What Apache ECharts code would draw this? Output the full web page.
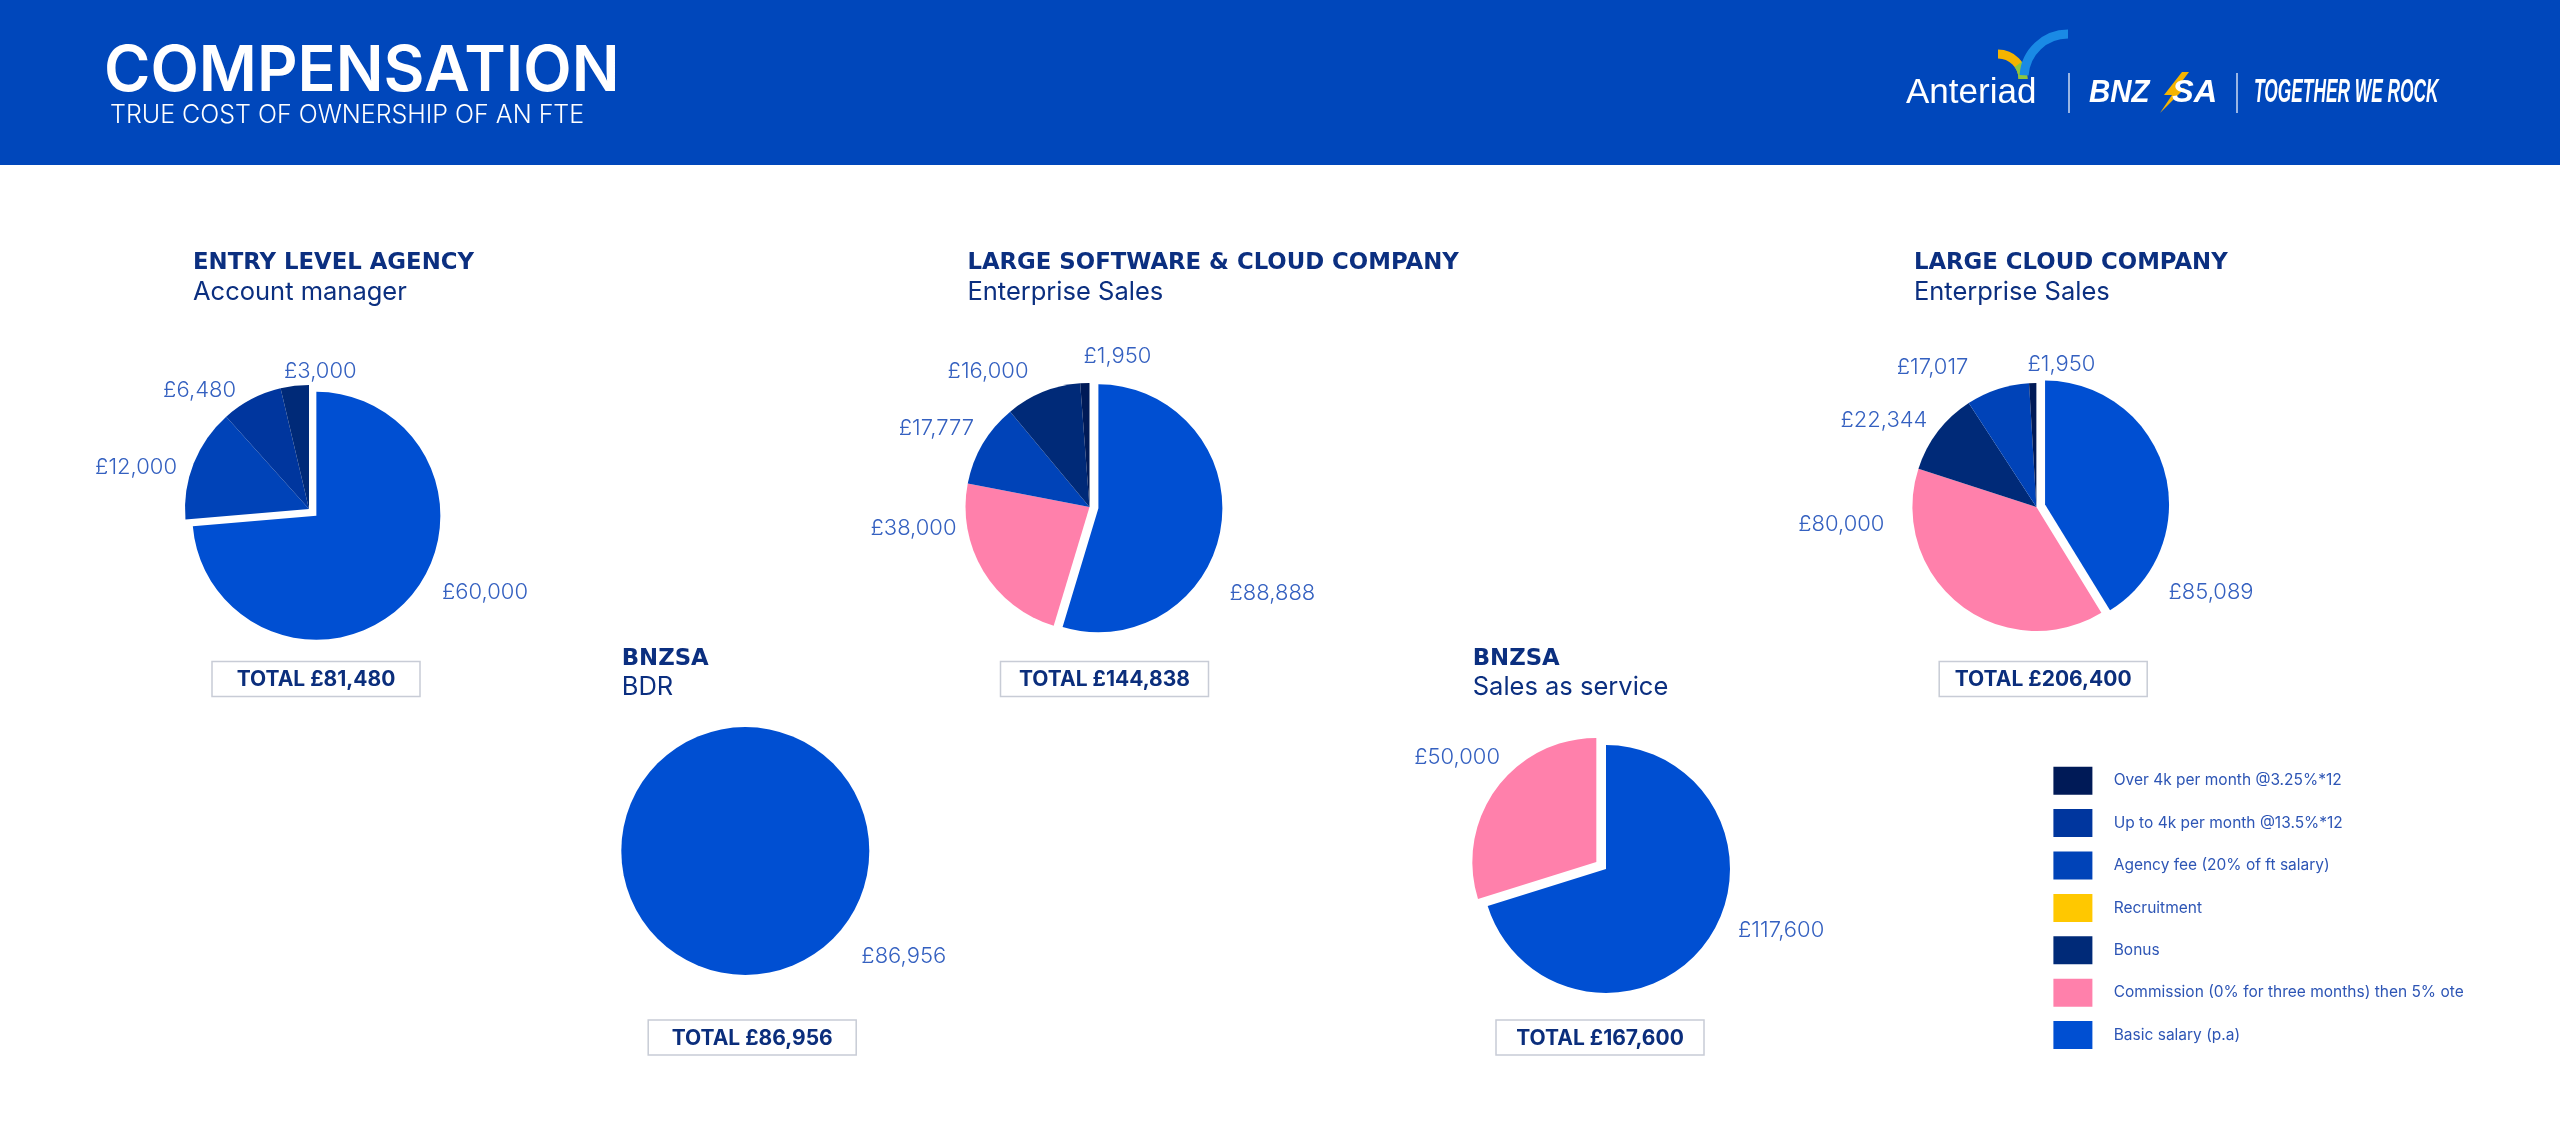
<!DOCTYPE html>
<html>
<head>
<meta charset="utf-8">
<style>
html,body{margin:0;padding:0;background:#fff;}
#c{width:2560px;height:1127px;}
</style>
<script src="https://cdn.jsdelivr.net/npm/echarts@6/dist/echarts.min.js"></script>
</head>
<body>
<div id="c"></div>
<script>
// ---------- DATA ----------
const CATEGORIES = [
  'Over 4k per month @3.25%*12',
  'Up to 4k per month @13.5%*12',
  'Agency fee (20% of ft salary)',
  'Recruitment',
  'Bonus',
  'Commission (0% for three months) then 5% ote',
  'Basic salary (p.a)'
];
const CAT_COLORS = ['#001a57', '#00369e', '#0043b8', '#ffc800', '#002a78', '#ff80ab', '#004fd2'];

const PIE_TITLES = ['ENTRY LEVEL AGENCY', 'LARGE SOFTWARE & CLOUD COMPANY', 'LARGE CLOUD COMPANY', 'BNZSA', 'BNZSA'];
const PIE_SUBTITLES = ['Account manager', 'Enterprise Sales', 'Enterprise Sales', 'BDR', 'Sales as service'];

const pie1Names = ['Basic salary (p.a)', 'Agency fee (20% of ft salary)', 'Up to 4k per month @13.5%*12', 'Bonus'];
const pie1Values = [60000, 12000, 6480, 3000];

const pie2Names = ['Basic salary (p.a)', 'Commission (0% for three months) then 5% ote', 'Agency fee (20% of ft salary)', 'Bonus', 'Over 4k per month @3.25%*12'];
const pie2Values = [88888, 38000, 17777, 16000, 1950];

const pie3Names = ['Basic salary (p.a)', 'Commission (0% for three months) then 5% ote', 'Bonus', 'Agency fee (20% of ft salary)', 'Over 4k per month @3.25%*12'];
const pie3Values = [85089, 80000, 22344, 17017, 1950];

const pie4Names = ['Basic salary (p.a)'];
const pie4Values = [86956];

const pie5Names = ['Basic salary (p.a)', 'Commission (0% for three months) then 5% ote'];
const pie5Values = [117600, 50000];

const TOTALS = [81480, 144838, 206400, 86956, 167600];
const EXPLODED = ['Basic salary (p.a)', 'Basic salary (p.a)', 'Basic salary (p.a)', null, 'Commission (0% for three months) then 5% ote'];

// ---------- LAYOUT / STYLE ----------
const F = "Inter, 'Open Sans', sans-serif";
const FT = "'DejaVu Sans', Inter, sans-serif";
const NAVY = '#0b2f80';
const LABEL_COLOR = '#3460c0';
const HEADER_BLUE = '#0047bb';
const TRANSPARENT = 'rgba(0,0,0,0)';

const PIE_CENTERS = [[309, 509], [1089.5, 507], [2036.4, 507], [745.3, 851], [1606, 869]];
const PIE_RADIUS = 124;
const PIE_OFFSETS = [10, 9, 9, 0, 12];
const TITLE_POS = [[193, 263], [967.4, 263], [1913.9, 263], [621.7, 658.7], [1472.7, 658.7]];
const TOTAL_POS = [[316, 679], [1104.5, 679], [2043.2, 679], [752.2, 1037.5], [1600, 1037.5]];
// label anchors relative to pie centre: [dx, dy, align]
const LABEL_ANCHORS = [
  [[133, 83, 'left'], [-132, -42, 'right'], [-73, -119, 'right'], [-25, -138, 'left']],
  [[140, 86, 'left'], [-133, 21, 'right'], [-115.5, -79, 'right'], [-61, -136, 'right'], [-6, -151, 'left']],
  [[132, 85, 'left'], [-152, 17, 'right'], [-109, -87, 'right'], [-68, -140, 'right'], [-9, -143, 'left']],
  [[116, 105, 'left']],
  [[132, 61, 'left'], [-106, -112, 'right']]
];

const fmt = v => v.toLocaleString('en-GB');
const colorOf = n => CAT_COLORS[CATEGORIES.indexOf(n)];

const PIES = [
  [pie1Names, pie1Values], [pie2Names, pie2Values], [pie3Names, pie3Values],
  [pie4Names, pie4Values], [pie5Names, pie5Values]
];

// offset vector of the exploded slice, along its bisector (pie starts at 12 o'clock, clockwise)
function explodeVector(names, values, name, off) {
  const k = names.indexOf(name);
  if (k < 0) return [0, 0];
  const total = values.reduce((a, b) => a + b, 0);
  let before = 0;
  for (let i = 0; i < k; i++) before += values[i];
  const mid = (before + values[k] / 2) / total * 2 * Math.PI;
  return [off * Math.sin(mid), -off * Math.cos(mid)];
}

const basePie = {
  type: 'pie', radius: PIE_RADIUS, startAngle: 90, clockwise: true,
  avoidLabelOverlap: false, animation: false,
  emphasis: { disabled: true },
  itemStyle: { borderWidth: 0 },
  labelLine: { show: false }
};

const series = [];
PIES.forEach(([names, values], si) => {
  const exp = EXPLODED[si];
  const c = PIE_CENTERS[si];
  // main pie (exploded slice left empty, all labels)
  series.push(Object.assign({}, basePie, {
    center: c,
    label: {
      show: true, position: 'outside',
      formatter: p => '£' + fmt(p.value),
      color: LABEL_COLOR, fontFamily: F, fontWeight: 300, fontSize: 22
    },
    labelLayout: function (params) {
      const a = LABEL_ANCHORS[si][params.dataIndex];
      return { x: c[0] + a[0], y: c[1] + a[1], align: a[2], verticalAlign: 'middle' };
    },
    data: names.map((n, i) => ({
      name: n, value: values[i],
      itemStyle: { color: n === exp ? TRANSPARENT : colorOf(n) }
    }))
  }));
  if (exp) {
    const v = explodeVector(names, values, exp, PIE_OFFSETS[si]);
    series.push(Object.assign({}, basePie, {
      center: [c[0] + v[0], c[1] + v[1]],
      silent: true,
      label: { show: false },
      data: names.map((n, i) => ({
        name: n, value: values[i],
        itemStyle: { color: n === exp ? colorOf(n) : TRANSPARENT }
      }))
    }));
  }
});

// ---------- GRAPHIC (header, titles, totals, legend) ----------
const g = [];
g.push({ type: 'rect', shape: { x: 0, y: 0, width: 2560, height: 165 }, style: { fill: HEADER_BLUE }, silent: true });
g.push({ type: 'text', x: 104, y: 72, style: { text: 'COMPENSATION', fill: '#fff', font: `600 63px ${F}`, verticalAlign: 'middle' } });
g.push({ type: 'text', x: 110, y: 115, style: { text: 'TRUE COST OF OWNERSHIP OF AN FTE', fill: '#fff', font: `300 25px ${F}`, verticalAlign: 'middle' } });

// logos
g.push({ type: 'arc', shape: { cx: 1998, cy: 79, r: 25, startAngle: -Math.PI / 2, endAngle: 0, clockwise: true }, style: { stroke: '#f5b400', lineWidth: 9, fill: null } });
g.push({ type: 'arc', shape: { cx: 1998, cy: 79, r: 25, startAngle: -Math.PI / 5, endAngle: 0, clockwise: true }, style: { stroke: '#8dc63f', lineWidth: 9, fill: null } });
g.push({ type: 'arc', shape: { cx: 2068, cy: 78, r: 44, startAngle: Math.PI * 1.02, endAngle: Math.PI * 1.5, clockwise: true }, style: { stroke: '#1a8ae5', lineWidth: 9, fill: null } });
g.push({ type: 'text', x: 1906, y: 93, style: { text: 'Anteriad', fill: '#fff', font: `400 35px 'Liberation Sans', sans-serif`, verticalAlign: 'middle' } });
g.push({ type: 'line', shape: { x1: 2069, y1: 73, x2: 2069, y2: 113 }, style: { stroke: 'rgba(255,255,255,0.8)', lineWidth: 1.5 } });
g.push({ type: 'text', x: 2089, y: 93, scaleX: 0.95, style: { text: 'BNZ', fill: '#fff', font: `italic 700 31px 'Liberation Sans', sans-serif`, verticalAlign: 'middle' } });
g.push({ type: 'polygon', shape: { points: [[2182, 72], [2164, 95], [2172, 95], [2160, 113], [2185, 88], [2177, 88], [2189, 72]] }, style: { fill: '#f5b400' } });
g.push({ type: 'text', x: 2172, y: 93, scaleX: 1.05, style: { text: 'SA', fill: '#fff', font: `italic 700 31px 'Liberation Sans', sans-serif`, verticalAlign: 'middle' } });
g.push({ type: 'line', shape: { x1: 2237, y1: 73, x2: 2237, y2: 113 }, style: { stroke: 'rgba(255,255,255,0.8)', lineWidth: 1.5 } });
g.push({ type: 'text', x: 2254, y: 93, scaleX: 0.51, style: { text: 'TOGETHER WE ROCK', fill: '#fff', font: `italic 700 34px 'Liberation Sans', sans-serif`, verticalAlign: 'middle' } });

// pie titles
PIE_TITLES.forEach((t, i) => {
  const [x, y] = TITLE_POS[i];
  g.push({ type: 'text', x: x, y: y, style: { text: t, fill: NAVY, font: `700 22.8px ${FT}`, verticalAlign: 'middle' } });
  g.push({ type: 'text', x: x, y: y + 29, style: { text: PIE_SUBTITLES[i], fill: NAVY, font: `400 25.5px ${F}`, verticalAlign: 'middle' } });
});

// totals
TOTALS.forEach((v, i) => {
  const [x, y] = TOTAL_POS[i];
  g.push({ type: 'rect', shape: { x: x - 104, y: y - 17.5, width: 208, height: 35 }, style: { fill: '#fff', stroke: '#c8ccd6', lineWidth: 1.5 } });
  g.push({ type: 'text', x: x, y: y + 1, style: { text: 'TOTAL £' + fmt(v), fill: '#0b2e7c', font: `700 21px ${F}`, align: 'center', verticalAlign: 'middle' } });
});

// legend
CATEGORIES.forEach((n, i) => {
  const y = 780.7 + i * 42.4;
  g.push({ type: 'rect', shape: { x: 2053.4, y: y - 14, width: 39, height: 28 }, style: { fill: CAT_COLORS[i] } });
  g.push({ type: 'text', x: 2113.7, y: y, style: { text: n, fill: '#2d55b5', font: `400 15.5px ${F}`, verticalAlign: 'middle' } });
});

const chart = echarts.init(document.getElementById('c'), null, { renderer: 'canvas', width: 2560, height: 1127 });
chart.setOption({
  backgroundColor: '#fff',
  animation: false,
  series: series,
  graphic: { elements: g }
});
</script>
</body>
</html>
